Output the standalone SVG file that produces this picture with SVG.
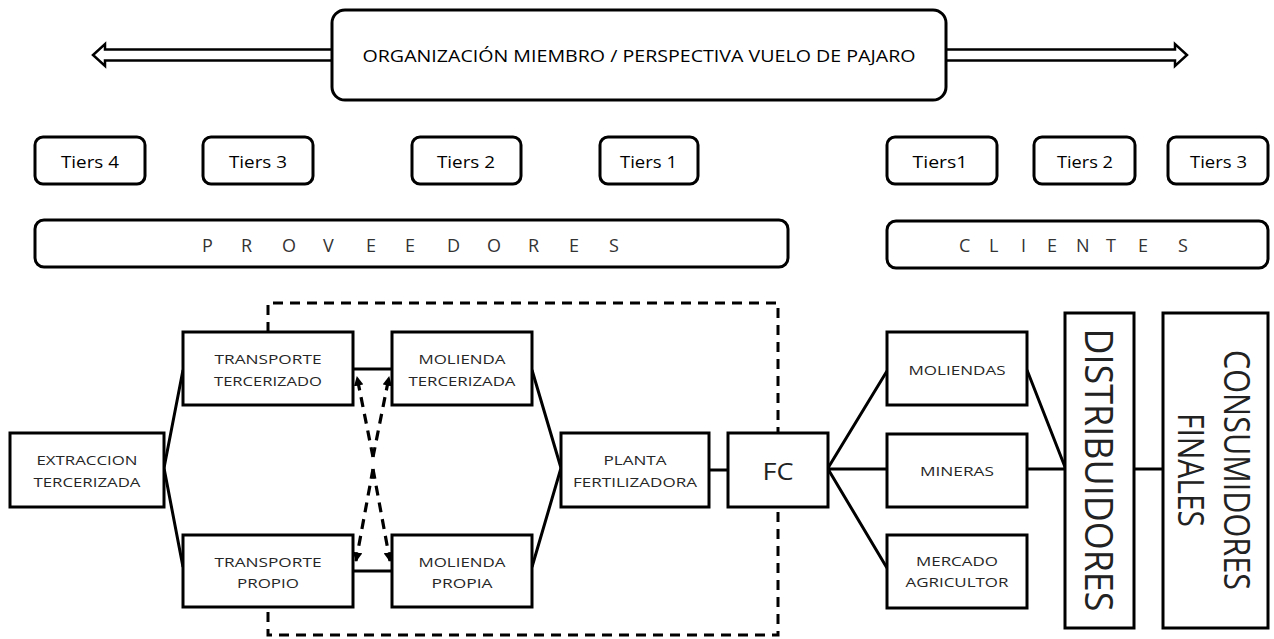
<svg xmlns="http://www.w3.org/2000/svg" width="1274" height="639" viewBox="0 0 1274 639">
  <style>
    .box { fill: #fff; stroke: #000; stroke-width: 3; }
    .rbox { fill: #fff; stroke: #000; stroke-width: 3; }
    .line { fill: none; stroke: #000; stroke-width: 3; }
    .dash { fill: none; stroke: #000; stroke-width: 3; stroke-dasharray: 10 7; }
    .dashArrow { fill: none; stroke: #000; stroke-width: 3.2; stroke-dasharray: 10 7; }
    .big { fill: #fff; stroke: #000; stroke-width: 2.5; }
    text { font-family: "Open Sans", "Liberation Sans", sans-serif; }
    .t-node { font-size: 13px; fill: #262626; text-anchor: middle; }
    .t-tier { font-size: 16px; fill: #000; text-anchor: middle; }
    .t-band { font-size: 18px; fill: #333; }
    .t-title { font-size: 16px; fill: #000; text-anchor: middle; }
    .t-vert { fill: #222; text-anchor: middle; }
  </style>
  <defs>
    <marker id="tip" viewBox="0 0 10 10" refX="9" refY="5" markerWidth="3" markerHeight="3" orient="auto">
      <path d="M0,0 L10,5 L0,10 Z" fill="#000"/>
    </marker>
  </defs>

  <!-- bird's-eye header with double block arrow -->
  <g id="header">
    <path class="big" d="M334,49.5 H105 V44 L93,55 L105,66 V60.5 H334 Z"/>
    <path class="big" d="M944,49.5 H1175 V44 L1187,55 L1175,66 V60.5 H944 Z"/>
    <rect class="rbox" x="332" y="10" width="614" height="90" rx="13"/>
    <text class="t-title" x="639" y="62" textLength="553" lengthAdjust="spacingAndGlyphs">ORGANIZACIÓN MIEMBRO / PERSPECTIVA VUELO DE PAJARO</text>
  </g>

  <!-- tiers row -->
  <g id="tier-p4"><rect class="rbox" x="35" y="137" width="110" height="47" rx="8"/><text class="t-tier" x="90" y="168" textLength="58" lengthAdjust="spacingAndGlyphs">Tiers 4</text></g>
  <g id="tier-p3"><rect class="rbox" x="203" y="137" width="110" height="47" rx="8"/><text class="t-tier" x="258" y="168" textLength="58" lengthAdjust="spacingAndGlyphs">Tiers 3</text></g>
  <g id="tier-p2"><rect class="rbox" x="412" y="137" width="109" height="47" rx="8"/><text class="t-tier" x="466" y="168" textLength="58" lengthAdjust="spacingAndGlyphs">Tiers 2</text></g>
  <g id="tier-p1"><rect class="rbox" x="600" y="137" width="98" height="47" rx="8"/><text class="t-tier" x="648.5" y="168" textLength="57" lengthAdjust="spacingAndGlyphs">Tiers 1</text></g>
  <g id="tier-c1"><rect class="rbox" x="887" y="137" width="110" height="47" rx="8"/><text class="t-tier" x="940" y="168" textLength="55" lengthAdjust="spacingAndGlyphs">Tiers1</text></g>
  <g id="tier-c2"><rect class="rbox" x="1034" y="137" width="101" height="47" rx="8"/><text class="t-tier" x="1085" y="168" textLength="56" lengthAdjust="spacingAndGlyphs">Tiers 2</text></g>
  <g id="tier-c3"><rect class="rbox" x="1168" y="137" width="100" height="47" rx="8"/><text class="t-tier" x="1218.5" y="168" textLength="57" lengthAdjust="spacingAndGlyphs">Tiers 3</text></g>

  <!-- supplier / customer bands -->
  <g id="proveedores">
    <rect class="rbox" x="35" y="220" width="753" height="47" rx="9"/>
    <text class="t-band" x="202 241 282 323 366 405 447 487 528 569 609" y="252">PROVEEDORES</text>
  </g>
  <g id="clientes">
    <rect class="rbox" x="887" y="221" width="381" height="47" rx="9"/>
    <text class="t-band" x="959 989 1021 1047 1076 1106 1138 1178" y="252">CLIENTES</text>
  </g>

  <!-- connectors -->
  <g id="connectors">
    <path class="dash" d="M268,332 V303 H778 V635 H268 V607"/>
    <path class="line" d="M164,468 L183,370 M164,468 L183,567"/>
    <path class="line" d="M353,369 H392 M353,571 H392"/>
    <path class="line" d="M532,370 L561,468 M532,567 L561,468"/>
    <path class="line" d="M709,470 H728"/>
    <path class="line" d="M828,468 L887,371 M828,469 H887 M828,469 L887,568"/>
    <path class="line" d="M1027,370 L1065,467 M1027,469 H1065"/>
    <path class="line" d="M1134,469 H1163"/>
    <path class="dashArrow" d="M373,457 L357,377" marker-end="url(#tip)"/>
    <path class="dashArrow" d="M373,457 L389,377" marker-end="url(#tip)"/>
    <path class="dashArrow" d="M373,469 L356,561" marker-end="url(#tip)"/>
    <path class="dashArrow" d="M373,469 L390,561" marker-end="url(#tip)"/>
  </g>

  <!-- supply-side nodes -->
  <g id="extraccion">
    <rect class="box" x="10" y="433" width="154" height="74"/>
    <text class="t-node" x="87" y="465" textLength="101" lengthAdjust="spacingAndGlyphs">EXTRACCION</text>
    <text class="t-node" x="87" y="487" textLength="107" lengthAdjust="spacingAndGlyphs">TERCERIZADA</text>
  </g>
  <g id="transporte-tercerizado">
    <rect class="box" x="183" y="332" width="170" height="73"/>
    <text class="t-node" x="268" y="364" textLength="107" lengthAdjust="spacingAndGlyphs">TRANSPORTE</text>
    <text class="t-node" x="268" y="386" textLength="108" lengthAdjust="spacingAndGlyphs">TERCERIZADO</text>
  </g>
  <g id="transporte-propio">
    <rect class="box" x="183" y="535" width="170" height="72"/>
    <text class="t-node" x="268" y="567" textLength="107" lengthAdjust="spacingAndGlyphs">TRANSPORTE</text>
    <text class="t-node" x="268" y="588" textLength="62" lengthAdjust="spacingAndGlyphs">PROPIO</text>
  </g>
  <g id="molienda-tercerizada">
    <rect class="box" x="392" y="332" width="140" height="73"/>
    <text class="t-node" x="462" y="364" textLength="87" lengthAdjust="spacingAndGlyphs">MOLIENDA</text>
    <text class="t-node" x="462" y="386" textLength="107" lengthAdjust="spacingAndGlyphs">TERCERIZADA</text>
  </g>
  <g id="molienda-propia">
    <rect class="box" x="392" y="535" width="140" height="72"/>
    <text class="t-node" x="462" y="567" textLength="87" lengthAdjust="spacingAndGlyphs">MOLIENDA</text>
    <text class="t-node" x="462" y="588" textLength="61" lengthAdjust="spacingAndGlyphs">PROPIA</text>
  </g>
  <g id="planta">
    <rect class="box" x="561" y="433" width="148" height="74"/>
    <text class="t-node" x="635" y="465" textLength="63" lengthAdjust="spacingAndGlyphs">PLANTA</text>
    <text class="t-node" x="635" y="487" textLength="124" lengthAdjust="spacingAndGlyphs">FERTILIZADORA</text>
  </g>
  <g id="fc">
    <rect class="box" x="728" y="433" width="100" height="74"/>
    <text x="778" y="480" font-size="24" fill="#222" text-anchor="middle" textLength="31" lengthAdjust="spacingAndGlyphs">FC</text>
  </g>

  <!-- customer-side nodes -->
  <g id="moliendas">
    <rect class="box" x="887" y="332" width="140" height="73"/>
    <text class="t-node" x="957" y="375" textLength="97" lengthAdjust="spacingAndGlyphs">MOLIENDAS</text>
  </g>
  <g id="mineras">
    <rect class="box" x="887" y="434" width="140" height="73"/>
    <text class="t-node" x="957" y="476" textLength="74" lengthAdjust="spacingAndGlyphs">MINERAS</text>
  </g>
  <g id="mercado">
    <rect class="box" x="887" y="535" width="140" height="73"/>
    <text class="t-node" x="957" y="566" textLength="82" lengthAdjust="spacingAndGlyphs">MERCADO</text>
    <text class="t-node" x="957" y="587" textLength="103" lengthAdjust="spacingAndGlyphs">AGRICULTOR</text>
  </g>
  <g id="distribuidores">
    <rect class="box" x="1065" y="313" width="69" height="315"/>
    <text class="t-vert" font-size="38" transform="translate(1085,470) rotate(90)" textLength="283" lengthAdjust="spacingAndGlyphs">DISTRIBUIDORES</text>
  </g>
  <g id="consumidores">
    <rect class="box" x="1163" y="313" width="105" height="315"/>
    <text class="t-vert" font-size="36" transform="translate(1224,470) rotate(90)" textLength="240" lengthAdjust="spacingAndGlyphs">CONSUMIDORES</text>
    <text class="t-vert" font-size="36" transform="translate(1178,470) rotate(90)" textLength="114" lengthAdjust="spacingAndGlyphs">FINALES</text>
  </g>
</svg>
